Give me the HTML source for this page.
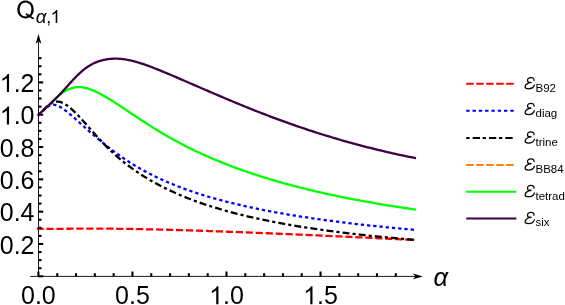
<!DOCTYPE html>
<html><head><meta charset="utf-8"><title>Q plot</title>
<style>
html,body{margin:0;padding:0;background:#fff;}
body{width:565px;height:305px;overflow:hidden;}
svg{display:block;font-family:"Liberation Sans",sans-serif;will-change:transform;}
</style></head><body>
<svg width="565" height="305" viewBox="0 0 565 305">
<rect width="565" height="305" fill="#fff"/>
<g fill="none" stroke-width="2.3" stroke-linejoin="round">
<path d="M36.8,228.7 L38.40,228.70 L39.04,228.72 L39.68,228.74 L40.32,228.76 L40.96,228.77 L41.59,228.79 L42.23,228.80 L42.87,228.81 L43.51,228.82 L44.15,228.83 L44.79,228.83 L45.43,228.84 L46.07,228.84 L46.71,228.85 L47.35,228.85 L47.98,228.85 L48.62,228.85 L49.26,228.85 L49.90,228.85 L50.54,228.85 L51.18,228.85 L51.82,228.85 L52.46,228.85 L53.10,228.85 L53.74,228.84 L54.37,228.84 L55.01,228.84 L55.65,228.83 L56.29,228.83 L56.93,228.83 L57.57,228.82 L58.21,228.82 L58.85,228.81 L59.49,228.81 L60.13,228.80 L60.76,228.80 L61.40,228.79 L62.04,228.79 L62.68,228.78 L63.32,228.78 L63.96,228.77 L64.60,228.77 L65.24,228.76 L65.88,228.76 L66.52,228.75 L67.15,228.75 L67.79,228.74 L68.43,228.74 L69.07,228.73 L69.71,228.73 L70.35,228.72 L70.99,228.72 L71.63,228.71 L72.27,228.71 L72.91,228.70 L73.54,228.70 L74.18,228.69 L74.82,228.69 L75.46,228.68 L76.10,228.68 L76.74,228.68 L77.38,228.67 L78.02,228.67 L78.66,228.67 L79.30,228.66 L79.93,228.66 L80.57,228.66 L81.21,228.65 L81.85,228.65 L82.49,228.65 L83.13,228.65 L83.77,228.64 L84.41,228.64 L85.05,228.64 L85.69,228.64 L86.32,228.64 L86.96,228.64 L87.60,228.63 L88.24,228.63 L88.88,228.63 L89.52,228.63 L90.16,228.63 L90.80,228.63 L91.44,228.63 L92.08,228.63 L92.71,228.63 L93.35,228.63 L93.99,228.63 L94.63,228.63 L95.27,228.63 L95.91,228.63 L96.55,228.64 L97.19,228.64 L97.83,228.64 L98.47,228.64 L99.10,228.64 L99.74,228.64 L100.38,228.65 L101.02,228.65 L101.66,228.65 L102.30,228.66 L102.94,228.66 L103.58,228.66 L104.22,228.66 L104.86,228.67 L105.49,228.67 L106.13,228.68 L106.77,228.68 L107.41,228.68 L108.05,228.69 L108.69,228.69 L109.33,228.70 L109.97,228.70 L110.61,228.71 L111.25,228.71 L111.88,228.72 L112.52,228.72 L113.16,228.73 L113.80,228.74 L114.44,228.74 L115.08,228.75 L115.72,228.76 L116.36,228.76 L117.00,228.77 L117.64,228.78 L118.27,228.78 L118.91,228.79 L119.55,228.80 L120.19,228.80 L120.83,228.81 L121.47,228.82 L122.11,228.83 L122.75,228.84 L123.39,228.84 L124.03,228.85 L124.66,228.86 L125.30,228.87 L125.94,228.88 L126.58,228.89 L127.22,228.90 L127.86,228.91 L128.50,228.92 L129.14,228.93 L129.78,228.94 L130.42,228.95 L131.05,228.96 L131.69,228.97 L132.33,228.98 L132.97,228.99 L133.61,229.00 L134.25,229.01 L134.89,229.02 L135.53,229.03 L136.17,229.04 L136.81,229.05 L137.44,229.07 L138.08,229.08 L138.72,229.09 L139.36,229.10 L140.00,229.11 L142.78,229.17 L145.55,229.22 L148.33,229.28 L151.11,229.34 L153.88,229.40 L156.66,229.47 L159.44,229.54 L162.21,229.61 L164.99,229.68 L167.77,229.75 L170.54,229.83 L173.32,229.90 L176.10,229.98 L178.87,230.06 L181.65,230.14 L184.43,230.22 L187.21,230.31 L189.98,230.40 L192.76,230.48 L195.54,230.57 L198.31,230.66 L201.09,230.75 L203.87,230.85 L206.64,230.94 L209.42,231.04 L212.20,231.13 L214.97,231.23 L217.75,231.33 L220.53,231.43 L223.30,231.53 L226.08,231.63 L228.86,231.74 L231.63,231.84 L234.41,231.95 L237.19,232.05 L239.96,232.16 L242.74,232.27 L245.52,232.38 L248.29,232.49 L251.07,232.60 L253.85,232.71 L256.62,232.82 L259.40,232.93 L262.18,233.04 L264.95,233.16 L267.73,233.27 L270.51,233.39 L273.28,233.50 L276.06,233.62 L278.84,233.74 L281.62,233.85 L284.39,233.97 L287.17,234.09 L289.95,234.21 L292.72,234.33 L295.50,234.45 L298.28,234.57 L301.05,234.69 L303.83,234.81 L306.61,234.93 L309.38,235.06 L312.16,235.18 L314.94,235.30 L317.71,235.43 L320.49,235.55 L323.27,235.68 L326.04,235.80 L328.82,235.93 L331.60,236.05 L334.37,236.18 L337.15,236.30 L339.93,236.43 L342.70,236.56 L345.48,236.68 L348.26,236.81 L351.03,236.94 L353.81,237.07 L356.59,237.19 L359.36,237.32 L362.14,237.45 L364.92,237.58 L367.69,237.71 L370.47,237.84 L373.25,237.97 L376.03,238.10 L378.80,238.23 L381.58,238.36 L384.36,238.49 L387.13,238.62 L389.91,238.75 L392.69,238.88 L395.46,239.01 L398.24,239.14 L401.02,239.28 L403.79,239.41 L406.57,239.54 L409.35,239.67 L412.12,239.80 L414.90,239.94" stroke="#f00" stroke-dasharray="7.2 2.77" stroke-dashoffset="0.36"/>
<path d="M38.40,114.90 L39.04,114.45 L39.68,113.95 L40.32,113.41 L40.96,112.83 L41.59,112.23 L42.23,111.62 L42.87,110.99 L43.51,110.37 L44.15,109.76 L44.79,109.16 L45.43,108.58 L46.07,108.03 L46.71,107.51 L47.35,107.02 L47.98,106.57 L48.62,106.17 L49.26,105.81 L49.90,105.50 L50.54,105.25 L51.18,105.05 L51.82,104.91 L52.46,104.82 L53.10,104.78 L53.74,104.79 L54.37,104.84 L55.01,104.93 L55.65,105.07 L56.29,105.23 L56.93,105.44 L57.57,105.67 L58.21,105.93 L58.85,106.23 L59.49,106.54 L60.13,106.89 L60.76,107.25 L61.40,107.64 L62.04,108.04 L62.68,108.46 L63.32,108.90 L63.96,109.36 L64.60,109.83 L65.24,110.31 L65.88,110.80 L66.52,111.30 L67.15,111.82 L67.79,112.34 L68.43,112.87 L69.07,113.40 L69.71,113.95 L70.35,114.49 L70.99,115.05 L71.63,115.60 L72.27,116.16 L72.91,116.72 L73.54,117.28 L74.18,117.85 L74.82,118.42 L75.46,118.98 L76.10,119.55 L76.74,120.12 L77.38,120.70 L78.02,121.27 L78.66,121.84 L79.30,122.41 L79.93,122.99 L80.57,123.56 L81.21,124.13 L81.85,124.71 L82.49,125.28 L83.13,125.85 L83.77,126.42 L84.41,126.99 L85.05,127.56 L85.69,128.13 L86.32,128.70 L86.96,129.27 L87.60,129.83 L88.24,130.40 L88.88,130.96 L89.52,131.52 L90.16,132.09 L90.80,132.64 L91.44,133.20 L92.08,133.76 L92.71,134.31 L93.35,134.86 L93.99,135.41 L94.63,135.96 L95.27,136.51 L95.91,137.05 L96.55,137.60 L97.19,138.14 L97.83,138.67 L98.47,139.21 L99.10,139.74 L99.74,140.28 L100.38,140.81 L101.02,141.33 L101.66,141.86 L102.30,142.38 L102.94,142.90 L103.58,143.42 L104.22,143.93 L104.86,144.44 L105.49,144.95 L106.13,145.46 L106.77,145.97 L107.41,146.47 L108.05,146.97 L108.69,147.47 L109.33,147.96 L109.97,148.45 L110.61,148.94 L111.25,149.43 L111.88,149.91 L112.52,150.40 L113.16,150.88 L113.80,151.35 L114.44,151.82 L115.08,152.30 L115.72,152.76 L116.36,153.23 L117.00,153.69 L117.64,154.15 L118.27,154.61 L118.91,155.06 L119.55,155.52 L120.19,155.97 L120.83,156.41 L121.47,156.86 L122.11,157.30 L122.75,157.74 L123.39,158.17 L124.03,158.60 L124.66,159.03 L125.30,159.46 L125.94,159.89 L126.58,160.31 L127.22,160.73 L127.86,161.14 L128.50,161.56 L129.14,161.97 L129.78,162.38 L130.42,162.78 L131.05,163.19 L131.69,163.59 L132.33,163.98 L132.97,164.38 L133.61,164.77 L134.25,165.16 L134.89,165.55 L135.53,165.93 L136.17,166.32 L136.81,166.70 L137.44,167.07 L138.08,167.45 L138.72,167.82 L139.36,168.19 L140.00,168.55 L142.78,170.11 L145.55,171.63 L148.33,173.09 L151.11,174.52 L153.88,175.90 L156.66,177.24 L159.44,178.55 L162.21,179.81 L164.99,181.05 L167.77,182.24 L170.54,183.41 L173.32,184.55 L176.10,185.65 L178.87,186.73 L181.65,187.78 L184.43,188.80 L187.21,189.80 L189.98,190.78 L192.76,191.73 L195.54,192.65 L198.31,193.56 L201.09,194.44 L203.87,195.31 L206.64,196.15 L209.42,196.98 L212.20,197.79 L214.97,198.58 L217.75,199.35 L220.53,200.10 L223.30,200.84 L226.08,201.57 L228.86,202.28 L231.63,202.97 L234.41,203.65 L237.19,204.32 L239.96,204.97 L242.74,205.61 L245.52,206.24 L248.29,206.85 L251.07,207.46 L253.85,208.05 L256.62,208.63 L259.40,209.20 L262.18,209.76 L264.95,210.31 L267.73,210.85 L270.51,211.38 L273.28,211.89 L276.06,212.40 L278.84,212.91 L281.62,213.40 L284.39,213.88 L287.17,214.36 L289.95,214.83 L292.72,215.28 L295.50,215.74 L298.28,216.18 L301.05,216.62 L303.83,217.05 L306.61,217.47 L309.38,217.89 L312.16,218.29 L314.94,218.70 L317.71,219.09 L320.49,219.48 L323.27,219.87 L326.04,220.24 L328.82,220.62 L331.60,220.98 L334.37,221.34 L337.15,221.70 L339.93,222.05 L342.70,222.39 L345.48,222.73 L348.26,223.07 L351.03,223.40 L353.81,223.72 L356.59,224.04 L359.36,224.36 L362.14,224.67 L364.92,224.97 L367.69,225.28 L370.47,225.57 L373.25,225.87 L376.03,226.16 L378.80,226.44 L381.58,226.73 L384.36,227.00 L387.13,227.28 L389.91,227.55 L392.69,227.82 L395.46,228.08 L398.24,228.34 L401.02,228.60 L403.79,228.85 L406.57,229.10 L409.35,229.34 L412.12,229.59 L414.90,229.83" stroke="#00f" stroke-dasharray="3.3 2.955" stroke-dashoffset="0.53"/>
<path d="M38.40,114.90 L39.04,114.39 L39.68,113.83 L40.32,113.24 L40.96,112.62 L41.59,111.98 L42.23,111.32 L42.87,110.66 L43.51,110.00 L44.15,109.34 L44.79,108.69 L45.43,108.06 L46.07,107.44 L46.71,106.83 L47.35,106.26 L47.98,105.71 L48.62,105.18 L49.26,104.69 L49.90,104.23 L50.54,103.81 L51.18,103.42 L51.82,103.06 L52.46,102.75 L53.10,102.47 L53.74,102.22 L54.37,102.02 L55.01,101.86 L55.65,101.73 L56.29,101.65 L56.93,101.61 L57.57,101.60 L58.21,101.64 L58.85,101.72 L59.49,101.84 L60.13,101.99 L60.76,102.17 L61.40,102.39 L62.04,102.64 L62.68,102.92 L63.32,103.22 L63.96,103.55 L64.60,103.91 L65.24,104.29 L65.88,104.69 L66.52,105.12 L67.15,105.56 L67.79,106.02 L68.43,106.51 L69.07,107.01 L69.71,107.52 L70.35,108.06 L70.99,108.60 L71.63,109.17 L72.27,109.74 L72.91,110.33 L73.54,110.93 L74.18,111.54 L74.82,112.16 L75.46,112.79 L76.10,113.43 L76.74,114.08 L77.38,114.74 L78.02,115.40 L78.66,116.08 L79.30,116.76 L79.93,117.44 L80.57,118.13 L81.21,118.83 L81.85,119.53 L82.49,120.23 L83.13,120.94 L83.77,121.65 L84.41,122.37 L85.05,123.09 L85.69,123.81 L86.32,124.53 L86.96,125.25 L87.60,125.97 L88.24,126.69 L88.88,127.42 L89.52,128.14 L90.16,128.86 L90.80,129.59 L91.44,130.31 L92.08,131.03 L92.71,131.75 L93.35,132.46 L93.99,133.18 L94.63,133.89 L95.27,134.60 L95.91,135.31 L96.55,136.02 L97.19,136.72 L97.83,137.42 L98.47,138.12 L99.10,138.81 L99.74,139.50 L100.38,140.19 L101.02,140.87 L101.66,141.55 L102.30,142.22 L102.94,142.89 L103.58,143.56 L104.22,144.22 L104.86,144.88 L105.49,145.53 L106.13,146.17 L106.77,146.82 L107.41,147.45 L108.05,148.09 L108.69,148.71 L109.33,149.34 L109.97,149.95 L110.61,150.56 L111.25,151.17 L111.88,151.77 L112.52,152.37 L113.16,152.96 L113.80,153.54 L114.44,154.12 L115.08,154.70 L115.72,155.27 L116.36,155.84 L117.00,156.40 L117.64,156.96 L118.27,157.51 L118.91,158.06 L119.55,158.60 L120.19,159.14 L120.83,159.67 L121.47,160.20 L122.11,160.73 L122.75,161.25 L123.39,161.76 L124.03,162.28 L124.66,162.79 L125.30,163.29 L125.94,163.79 L126.58,164.29 L127.22,164.78 L127.86,165.27 L128.50,165.75 L129.14,166.24 L129.78,166.71 L130.42,167.19 L131.05,167.66 L131.69,168.12 L132.33,168.58 L132.97,169.04 L133.61,169.50 L134.25,169.95 L134.89,170.40 L135.53,170.84 L136.17,171.29 L136.81,171.72 L137.44,172.16 L138.08,172.59 L138.72,173.02 L139.36,173.44 L140.00,173.86 L142.78,175.66 L145.55,177.40 L148.33,179.08 L151.11,180.71 L153.88,182.29 L156.66,183.82 L159.44,185.30 L162.21,186.74 L164.99,188.13 L167.77,189.49 L170.54,190.80 L173.32,192.08 L176.10,193.32 L178.87,194.53 L181.65,195.70 L184.43,196.84 L187.21,197.95 L189.98,199.03 L192.76,200.09 L195.54,201.11 L198.31,202.11 L201.09,203.09 L203.87,204.04 L206.64,204.96 L209.42,205.87 L212.20,206.75 L214.97,207.61 L217.75,208.45 L220.53,209.27 L223.30,210.07 L226.08,210.86 L228.86,211.62 L231.63,212.37 L234.41,213.10 L237.19,213.81 L239.96,214.51 L242.74,215.20 L245.52,215.87 L248.29,216.52 L251.07,217.16 L253.85,217.79 L256.62,218.41 L259.40,219.01 L262.18,219.60 L264.95,220.18 L267.73,220.74 L270.51,221.30 L273.28,221.84 L276.06,222.38 L278.84,222.90 L281.62,223.41 L284.39,223.92 L287.17,224.41 L289.95,224.89 L292.72,225.37 L295.50,225.84 L298.28,226.29 L301.05,226.74 L303.83,227.18 L306.61,227.62 L309.38,228.04 L312.16,228.46 L314.94,228.87 L317.71,229.27 L320.49,229.67 L323.27,230.06 L326.04,230.44 L328.82,230.82 L331.60,231.19 L334.37,231.55 L337.15,231.91 L339.93,232.26 L342.70,232.61 L345.48,232.95 L348.26,233.28 L351.03,233.61 L353.81,233.93 L356.59,234.25 L359.36,234.56 L362.14,234.87 L364.92,235.18 L367.69,235.48 L370.47,235.77 L373.25,236.06 L376.03,236.34 L378.80,236.62 L381.58,236.90 L384.36,237.17 L387.13,237.44 L389.91,237.71 L392.69,237.97 L395.46,238.22 L398.24,238.47 L401.02,238.72 L403.79,238.97 L406.57,239.21 L409.35,239.45 L412.12,239.68 L414.90,239.91" stroke="#000" stroke-dasharray="6.95 3.1 3.1 3.1" stroke-dashoffset="10.16"/>
<path d="M50.54,103.47 L51.18,102.85 L51.82,102.22 L52.46,101.58 L53.10,100.93 L53.74,100.29 L54.37,99.65 L55.01,99.02 L55.65,98.40 L56.29,97.80 L56.93,97.21 L57.57,96.65 L58.21,96.10 L58.85,95.56 L59.49,95.04 L60.13,94.53 L60.76,94.04 L61.40,93.56 L62.04,93.10 L62.68,92.65 L63.32,92.22 L63.96,91.81 L64.60,91.41 L65.24,91.03 L65.88,90.66 L66.52,90.32 L67.15,89.99 L67.79,89.67 L68.43,89.38 L69.07,89.10 L69.71,88.84 L70.35,88.60 L70.99,88.37 L71.63,88.17 L72.27,87.98 L72.91,87.80 L73.54,87.65 L74.18,87.52 L74.82,87.40 L75.46,87.30 L76.10,87.22 L76.74,87.15 L77.38,87.11 L78.02,87.08 L78.66,87.07 L79.30,87.07 L79.93,87.10 L80.57,87.13 L81.21,87.19 L81.85,87.26 L82.49,87.34 L83.13,87.44 L83.77,87.55 L84.41,87.68 L85.05,87.81 L85.69,87.96 L86.32,88.12 L86.96,88.30 L87.60,88.48 L88.24,88.67 L88.88,88.88 L89.52,89.09 L90.16,89.31 L90.80,89.55 L91.44,89.79 L92.08,90.04 L92.71,90.30 L93.35,90.56 L93.99,90.84 L94.63,91.12 L95.27,91.40 L95.91,91.70 L96.55,92.00 L97.19,92.31 L97.83,92.62 L98.47,92.94 L99.10,93.27 L99.74,93.60 L100.38,93.93 L101.02,94.27 L101.66,94.62 L102.30,94.97 L102.94,95.32 L103.58,95.68 L104.22,96.05 L104.86,96.41 L105.49,96.78 L106.13,97.16 L106.77,97.53 L107.41,97.92 L108.05,98.30 L108.69,98.69 L109.33,99.08 L109.97,99.47 L110.61,99.86 L111.25,100.26 L111.88,100.66 L112.52,101.06 L113.16,101.47 L113.80,101.87 L114.44,102.28 L115.08,102.69 L115.72,103.10 L116.36,103.52 L117.00,103.93 L117.64,104.35 L118.27,104.76 L118.91,105.18 L119.55,105.60 L120.19,106.02 L120.83,106.44 L121.47,106.87 L122.11,107.29 L122.75,107.71 L123.39,108.14 L124.03,108.56 L124.66,108.99 L125.30,109.41 L125.94,109.84 L126.58,110.27 L127.22,110.69 L127.86,111.12 L128.50,111.55 L129.14,111.97 L129.78,112.40 L130.42,112.83 L131.05,113.26 L131.69,113.68 L132.33,114.11 L132.97,114.54 L133.61,114.96 L134.25,115.39 L134.89,115.81 L135.53,116.24 L136.17,116.66 L136.81,117.09 L137.44,117.51 L138.08,117.93 L138.72,118.36 L139.36,118.78 L140.00,119.20 L142.78,121.02 L145.55,122.82 L148.33,124.61 L151.11,126.37 L153.88,128.12 L156.66,129.83 L159.44,131.53 L162.21,133.20 L164.99,134.84 L167.77,136.45 L170.54,138.03 L173.32,139.58 L176.10,141.11 L178.87,142.60 L181.65,144.07 L184.43,145.50 L187.21,146.91 L189.98,148.30 L192.76,149.65 L195.54,150.98 L198.31,152.29 L201.09,153.57 L203.87,154.83 L206.64,156.07 L209.42,157.28 L212.20,158.47 L214.97,159.65 L217.75,160.80 L220.53,161.93 L223.30,163.04 L226.08,164.13 L228.86,165.20 L231.63,166.26 L234.41,167.30 L237.19,168.32 L239.96,169.32 L242.74,170.31 L245.52,171.28 L248.29,172.23 L251.07,173.17 L253.85,174.09 L256.62,175.00 L259.40,175.90 L262.18,176.78 L264.95,177.64 L267.73,178.49 L270.51,179.33 L273.28,180.16 L276.06,180.97 L278.84,181.77 L281.62,182.56 L284.39,183.33 L287.17,184.10 L289.95,184.85 L292.72,185.59 L295.50,186.32 L298.28,187.04 L301.05,187.75 L303.83,188.44 L306.61,189.13 L309.38,189.81 L312.16,190.47 L314.94,191.13 L317.71,191.77 L320.49,192.41 L323.27,193.04 L326.04,193.66 L328.82,194.27 L331.60,194.87 L334.37,195.46 L337.15,196.05 L339.93,196.62 L342.70,197.19 L345.48,197.75 L348.26,198.30 L351.03,198.84 L353.81,199.38 L356.59,199.91 L359.36,200.43 L362.14,200.94 L364.92,201.45 L367.69,201.94 L370.47,202.44 L373.25,202.92 L376.03,203.40 L378.80,203.87 L381.58,204.34 L384.36,204.79 L387.13,205.25 L389.91,205.69 L392.69,206.13 L395.46,206.56 L398.24,206.99 L401.02,207.41 L403.79,207.83 L406.57,208.24 L409.35,208.64 L412.12,209.04 L414.90,209.43" stroke="#0f0" stroke-linecap="square"/>
<path d="M38.40,114.90 L39.04,114.28 L39.68,113.66 L40.32,113.05 L40.96,112.44 L41.59,111.84 L42.23,111.23 L42.87,110.63 L43.51,110.03 L44.15,109.43 L44.79,108.84 L45.43,108.24 L46.07,107.65 L46.71,107.05 L47.35,106.46 L47.98,105.87 L48.62,105.27 L49.26,104.68 L49.90,104.09 L50.54,103.49 L51.18,102.89 L51.82,102.29 L52.46,101.69 L53.10,101.08 L53.74,100.47 L54.37,99.85 L55.01,99.23 L55.65,98.61 L56.29,97.98 L56.93,97.34 L57.57,96.70 L58.21,96.05 L58.85,95.40 L59.49,94.74 L60.13,94.08 L60.76,93.41 L61.40,92.73 L62.04,92.04 L62.68,91.35 L63.32,90.65 L63.96,89.95 L64.60,89.24 L65.24,88.53 L65.88,87.82 L66.52,87.11 L67.15,86.40 L67.79,85.69 L68.43,84.97 L69.07,84.26 L69.71,83.55 L70.35,82.85 L70.99,82.15 L71.63,81.45 L72.27,80.75 L72.91,80.06 L73.54,79.38 L74.18,78.70 L74.82,78.03 L75.46,77.36 L76.10,76.70 L76.74,76.06 L77.38,75.42 L78.02,74.79 L78.66,74.17 L79.30,73.56 L79.93,72.97 L80.57,72.39 L81.21,71.82 L81.85,71.26 L82.49,70.72 L83.13,70.19 L83.77,69.68 L84.41,69.17 L85.05,68.68 L85.69,68.21 L86.32,67.75 L86.96,67.30 L87.60,66.86 L88.24,66.44 L88.88,66.03 L89.52,65.63 L90.16,65.25 L90.80,64.88 L91.44,64.52 L92.08,64.17 L92.71,63.84 L93.35,63.52 L93.99,63.21 L94.63,62.91 L95.27,62.63 L95.91,62.36 L96.55,62.10 L97.19,61.85 L97.83,61.62 L98.47,61.39 L99.10,61.18 L99.74,60.97 L100.38,60.78 L101.02,60.60 L101.66,60.42 L102.30,60.26 L102.94,60.10 L103.58,59.95 L104.22,59.81 L104.86,59.68 L105.49,59.56 L106.13,59.44 L106.77,59.34 L107.41,59.24 L108.05,59.15 L108.69,59.07 L109.33,58.99 L109.97,58.93 L110.61,58.87 L111.25,58.82 L111.88,58.77 L112.52,58.73 L113.16,58.70 L113.80,58.68 L114.44,58.67 L115.08,58.66 L115.72,58.66 L116.36,58.66 L117.00,58.68 L117.64,58.70 L118.27,58.72 L118.91,58.76 L119.55,58.80 L120.19,58.84 L120.83,58.90 L121.47,58.96 L122.11,59.02 L122.75,59.09 L123.39,59.17 L124.03,59.26 L124.66,59.35 L125.30,59.44 L125.94,59.55 L126.58,59.66 L127.22,59.77 L127.86,59.89 L128.50,60.01 L129.14,60.14 L129.78,60.28 L130.42,60.42 L131.05,60.56 L131.69,60.71 L132.33,60.87 L132.97,61.03 L133.61,61.19 L134.25,61.36 L134.89,61.53 L135.53,61.70 L136.17,61.88 L136.81,62.06 L137.44,62.25 L138.08,62.44 L138.72,62.63 L139.36,62.83 L140.00,63.03 L142.78,63.93 L145.55,64.88 L148.33,65.88 L151.11,66.91 L153.88,67.98 L156.66,69.07 L159.44,70.19 L162.21,71.32 L164.99,72.48 L167.77,73.64 L170.54,74.81 L173.32,75.99 L176.10,77.18 L178.87,78.37 L181.65,79.57 L184.43,80.77 L187.21,81.97 L189.98,83.18 L192.76,84.38 L195.54,85.59 L198.31,86.79 L201.09,88.00 L203.87,89.20 L206.64,90.40 L209.42,91.60 L212.20,92.80 L214.97,93.99 L217.75,95.18 L220.53,96.36 L223.30,97.54 L226.08,98.71 L228.86,99.88 L231.63,101.04 L234.41,102.20 L237.19,103.35 L239.96,104.49 L242.74,105.63 L245.52,106.76 L248.29,107.88 L251.07,109.00 L253.85,110.10 L256.62,111.20 L259.40,112.29 L262.18,113.37 L264.95,114.44 L267.73,115.51 L270.51,116.56 L273.28,117.60 L276.06,118.64 L278.84,119.66 L281.62,120.68 L284.39,121.68 L287.17,122.68 L289.95,123.67 L292.72,124.64 L295.50,125.61 L298.28,126.57 L301.05,127.51 L303.83,128.45 L306.61,129.38 L309.38,130.30 L312.16,131.20 L314.94,132.10 L317.71,132.99 L320.49,133.86 L323.27,134.73 L326.04,135.59 L328.82,136.44 L331.60,137.27 L334.37,138.10 L337.15,138.92 L339.93,139.73 L342.70,140.52 L345.48,141.31 L348.26,142.09 L351.03,142.86 L353.81,143.62 L356.59,144.37 L359.36,145.11 L362.14,145.84 L364.92,146.56 L367.69,147.28 L370.47,147.98 L373.25,148.67 L376.03,149.36 L378.80,150.03 L381.58,150.70 L384.36,151.36 L387.13,152.01 L389.91,152.64 L392.69,153.28 L395.46,153.90 L398.24,154.51 L401.02,155.11 L403.79,155.71 L406.57,156.30 L409.35,156.88 L412.12,157.45 L414.90,158.01" stroke="#3f0045" stroke-linecap="square"/>
</g>
<g stroke="#000" stroke-width="0.9">
<line x1="30.4" y1="276.4" x2="416" y2="276.4"/>
<line x1="38.5" y1="276.4" x2="38.5" y2="42"/>
</g>
<path d="M422.8,276.4 L413.0,273.5 L415.4,276.4 L413.0,279.29999999999995 Z" fill="#000"/>
<path d="M38.5,34.0 L35.6,43.8 L38.5,41.5 L41.4,43.8 Z" fill="#000"/>
<g stroke="#000" stroke-width="2.1">
<line x1="38.50" y1="276.30" x2="43.20" y2="276.30"/>
<line x1="38.50" y1="268.22" x2="41.50" y2="268.22"/>
<line x1="38.50" y1="260.14" x2="41.50" y2="260.14"/>
<line x1="38.50" y1="252.06" x2="41.50" y2="252.06"/>
<line x1="38.50" y1="243.98" x2="43.20" y2="243.98"/>
<line x1="38.50" y1="235.90" x2="41.50" y2="235.90"/>
<line x1="38.50" y1="227.82" x2="41.50" y2="227.82"/>
<line x1="38.50" y1="219.74" x2="41.50" y2="219.74"/>
<line x1="38.50" y1="211.66" x2="43.20" y2="211.66"/>
<line x1="38.50" y1="203.58" x2="41.50" y2="203.58"/>
<line x1="38.50" y1="195.50" x2="41.50" y2="195.50"/>
<line x1="38.50" y1="187.42" x2="41.50" y2="187.42"/>
<line x1="38.50" y1="179.34" x2="43.20" y2="179.34"/>
<line x1="38.50" y1="171.26" x2="41.50" y2="171.26"/>
<line x1="38.50" y1="163.18" x2="41.50" y2="163.18"/>
<line x1="38.50" y1="155.10" x2="41.50" y2="155.10"/>
<line x1="38.50" y1="147.02" x2="43.20" y2="147.02"/>
<line x1="38.50" y1="138.94" x2="41.50" y2="138.94"/>
<line x1="38.50" y1="130.86" x2="41.50" y2="130.86"/>
<line x1="38.50" y1="122.78" x2="41.50" y2="122.78"/>
<line x1="38.50" y1="114.70" x2="43.20" y2="114.70"/>
<line x1="38.50" y1="106.62" x2="41.50" y2="106.62"/>
<line x1="38.50" y1="98.54" x2="41.50" y2="98.54"/>
<line x1="38.50" y1="90.46" x2="41.50" y2="90.46"/>
<line x1="38.50" y1="82.38" x2="43.20" y2="82.38"/>
<line x1="38.50" y1="74.30" x2="41.50" y2="74.30"/>
<line x1="38.50" y1="66.22" x2="41.50" y2="66.22"/>
<line x1="38.50" y1="58.14" x2="41.50" y2="58.14"/>
<line x1="38.40" y1="276.40" x2="38.40" y2="271.50"/>
<line x1="57.21" y1="276.40" x2="57.21" y2="273.20"/>
<line x1="76.02" y1="276.40" x2="76.02" y2="273.20"/>
<line x1="94.83" y1="276.40" x2="94.83" y2="273.20"/>
<line x1="113.64" y1="276.40" x2="113.64" y2="273.20"/>
<line x1="132.45" y1="276.40" x2="132.45" y2="271.50"/>
<line x1="151.26" y1="276.40" x2="151.26" y2="273.20"/>
<line x1="170.07" y1="276.40" x2="170.07" y2="273.20"/>
<line x1="188.88" y1="276.40" x2="188.88" y2="273.20"/>
<line x1="207.69" y1="276.40" x2="207.69" y2="273.20"/>
<line x1="226.50" y1="276.40" x2="226.50" y2="271.50"/>
<line x1="245.31" y1="276.40" x2="245.31" y2="273.20"/>
<line x1="264.12" y1="276.40" x2="264.12" y2="273.20"/>
<line x1="282.93" y1="276.40" x2="282.93" y2="273.20"/>
<line x1="301.74" y1="276.40" x2="301.74" y2="273.20"/>
<line x1="320.55" y1="276.40" x2="320.55" y2="271.50"/>
<line x1="339.36" y1="276.40" x2="339.36" y2="273.20"/>
<line x1="358.17" y1="276.40" x2="358.17" y2="273.20"/>
<line x1="376.98" y1="276.40" x2="376.98" y2="273.20"/>
<line x1="395.79" y1="276.40" x2="395.79" y2="273.20"/>
</g>
<g font-size="25" fill="#000">
<text x="-0.25" y="253.68" font-size="25">0</text><text x="13.65" y="253.68" font-size="25">.</text><text x="20.60" y="253.68" font-size="25">2</text>
<text x="-0.25" y="221.36" font-size="25">0</text><text x="13.65" y="221.36" font-size="25">.</text><text x="20.60" y="221.36" font-size="25">4</text>
<text x="-0.25" y="189.04" font-size="25">0</text><text x="13.65" y="189.04" font-size="25">.</text><text x="20.60" y="189.04" font-size="25">6</text>
<text x="-0.25" y="156.72" font-size="25">0</text><text x="13.65" y="156.72" font-size="25">.</text><text x="20.60" y="156.72" font-size="25">8</text>
<path d="M763 0H583V1147Q518 1085 412 1023T223 930V1104Q374 1175 487 1276T647 1472H763Z" transform="translate(-0.25,124.40) scale(0.01221,-0.01221)"/><text x="13.65" y="124.40" font-size="25">.</text><text x="20.60" y="124.40" font-size="25">0</text>
<path d="M763 0H583V1147Q518 1085 412 1023T223 930V1104Q374 1175 487 1276T647 1472H763Z" transform="translate(-0.25,92.08) scale(0.01221,-0.01221)"/><text x="13.65" y="92.08" font-size="25">.</text><text x="20.60" y="92.08" font-size="25">2</text>
<text x="21.02" y="304.30" font-size="25">0</text><text x="34.93" y="304.30" font-size="25">.</text><text x="41.87" y="304.30" font-size="25">0</text>
<text x="115.07" y="304.30" font-size="25">0</text><text x="128.98" y="304.30" font-size="25">.</text><text x="135.92" y="304.30" font-size="25">5</text>
<path d="M763 0H583V1147Q518 1085 412 1023T223 930V1104Q374 1175 487 1276T647 1472H763Z" transform="translate(209.12,304.30) scale(0.01221,-0.01221)"/><text x="223.03" y="304.30" font-size="25">.</text><text x="229.97" y="304.30" font-size="25">0</text>
<path d="M763 0H583V1147Q518 1085 412 1023T223 930V1104Q374 1175 487 1276T647 1472H763Z" transform="translate(303.17,304.30) scale(0.01221,-0.01221)"/><text x="317.08" y="304.30" font-size="25">.</text><text x="324.02" y="304.30" font-size="25">5</text>

<path transform="translate(16.1,18.3) scale(0.011719,-0.011719)" d="M1283 174Q1418 81 1532 38L1475 -97Q1317 -40 1160 83Q997 -8 800 -8Q601 -8 439 88Q277 184 189.5 358Q102 532 102 750Q102 967 190 1145Q278 1323 440.5 1416Q603 1509 804 1509Q1007 1509 1170 1412.5Q1333 1316 1418.5 1142.5Q1504 969 1504 751Q1504 570 1449 425.5Q1394 281 1283 174ZM856 422Q1024 375 1133 282Q1304 438 1304 751Q1304 929 1243.5 1062Q1183 1195 1066.5 1268.5Q950 1342 805 1342Q588 1342 445 1193.5Q302 1045 302 750Q302 464 443.5 311Q585 158 805 158Q909 158 1001 197Q910 256 809 281Z"/>
<text x="35.7" y="23.0" font-size="18.8" font-style="italic">α</text>
<text x="46.30" y="23.00" font-size="17.5">,</text>
<path d="M763 0H583V1147Q518 1085 412 1023T223 930V1104Q374 1175 487 1276T647 1472H763Z" transform="translate(50.50,23.00) scale(0.00889,-0.00889)"/>

<text x="433.6" y="285.9" font-size="25.5" font-style="italic">α</text>
</g>
<g fill="#000">
<line x1="466.2" y1="83.80" x2="514.0" y2="83.80" stroke="#f00" stroke-width="2" stroke-dasharray="7.5 2.5"/>
<path d="M14.0,7.7 C14.4,6.0 13.2,4.85 10.9,4.85 C8.6,4.85 7.5,6.1 7.5,7.5 C7.5,8.9 8.6,9.7 10.2,9.8 C11.0,9.85 11.3,9.5 10.8,9.4 C10.2,9.3 9.4,9.6 8.7,10.0 C6.4,10.9 5.1,12.3 5.1,13.9 C5.1,15.2 6.4,15.6 8.4,15.6 C11.2,15.6 13.6,14.4 14.4,12.0" transform="translate(520,72.50) scale(1,1.045)" fill="none" stroke="#000" stroke-width="1.2" stroke-linecap="round"/>
<text x="535.5" y="91.60" font-size="11.5">B92</text>
<line x1="466.2" y1="110.70" x2="516.4" y2="110.70" stroke="#00f" stroke-width="2" stroke-dasharray="3.4 2.9"/>
<path d="M14.0,7.7 C14.4,6.0 13.2,4.85 10.9,4.85 C8.6,4.85 7.5,6.1 7.5,7.5 C7.5,8.9 8.6,9.7 10.2,9.8 C11.0,9.85 11.3,9.5 10.8,9.4 C10.2,9.3 9.4,9.6 8.7,10.0 C6.4,10.9 5.1,12.3 5.1,13.9 C5.1,15.2 6.4,15.6 8.4,15.6 C11.2,15.6 13.6,14.4 14.4,12.0" transform="translate(520,98.20) scale(1,1.045)" fill="none" stroke="#000" stroke-width="1.2" stroke-linecap="round"/>
<text x="535.5" y="117.30" font-size="11.5">diag</text>
<line x1="466.2" y1="138.10" x2="514.5" y2="138.10" stroke="#000" stroke-width="2" stroke-dasharray="3.4 3.05 7.3 2.6"/>
<path d="M14.0,7.7 C14.4,6.0 13.2,4.85 10.9,4.85 C8.6,4.85 7.5,6.1 7.5,7.5 C7.5,8.9 8.6,9.7 10.2,9.8 C11.0,9.85 11.3,9.5 10.8,9.4 C10.2,9.3 9.4,9.6 8.7,10.0 C6.4,10.9 5.1,12.3 5.1,13.9 C5.1,15.2 6.4,15.6 8.4,15.6 C11.2,15.6 13.6,14.4 14.4,12.0" transform="translate(520,126.80) scale(1,1.045)" fill="none" stroke="#000" stroke-width="1.2" stroke-linecap="round"/>
<text x="535.5" y="145.90" font-size="11.5">trine</text>
<line x1="466.2" y1="165.00" x2="514.0" y2="165.00" stroke="#ff8000" stroke-width="2" stroke-dasharray="7.5 2.5"/>
<path d="M14.0,7.7 C14.4,6.0 13.2,4.85 10.9,4.85 C8.6,4.85 7.5,6.1 7.5,7.5 C7.5,8.9 8.6,9.7 10.2,9.8 C11.0,9.85 11.3,9.5 10.8,9.4 C10.2,9.3 9.4,9.6 8.7,10.0 C6.4,10.9 5.1,12.3 5.1,13.9 C5.1,15.2 6.4,15.6 8.4,15.6 C11.2,15.6 13.6,14.4 14.4,12.0" transform="translate(520,153.70) scale(1,1.045)" fill="none" stroke="#000" stroke-width="1.2" stroke-linecap="round"/>
<text x="535.5" y="172.80" font-size="11.5">BB84</text>
<line x1="466.2" y1="191.70" x2="516.4" y2="191.70" stroke="#0f0" stroke-width="2"/>
<path d="M14.0,7.7 C14.4,6.0 13.2,4.85 10.9,4.85 C8.6,4.85 7.5,6.1 7.5,7.5 C7.5,8.9 8.6,9.7 10.2,9.8 C11.0,9.85 11.3,9.5 10.8,9.4 C10.2,9.3 9.4,9.6 8.7,10.0 C6.4,10.9 5.1,12.3 5.1,13.9 C5.1,15.2 6.4,15.6 8.4,15.6 C11.2,15.6 13.6,14.4 14.4,12.0" transform="translate(520,180.40) scale(1,1.045)" fill="none" stroke="#000" stroke-width="1.2" stroke-linecap="round"/>
<text x="535.5" y="199.50" font-size="11.5">tetrad</text>
<line x1="466.2" y1="218.60" x2="516.4" y2="218.60" stroke="#3f0045" stroke-width="2"/>
<path d="M14.0,7.7 C14.4,6.0 13.2,4.85 10.9,4.85 C8.6,4.85 7.5,6.1 7.5,7.5 C7.5,8.9 8.6,9.7 10.2,9.8 C11.0,9.85 11.3,9.5 10.8,9.4 C10.2,9.3 9.4,9.6 8.7,10.0 C6.4,10.9 5.1,12.3 5.1,13.9 C5.1,15.2 6.4,15.6 8.4,15.6 C11.2,15.6 13.6,14.4 14.4,12.0" transform="translate(520,207.30) scale(1,1.045)" fill="none" stroke="#000" stroke-width="1.2" stroke-linecap="round"/>
<text x="535.5" y="226.40" font-size="11.5">six</text>

</g>
</svg>
</body></html>
